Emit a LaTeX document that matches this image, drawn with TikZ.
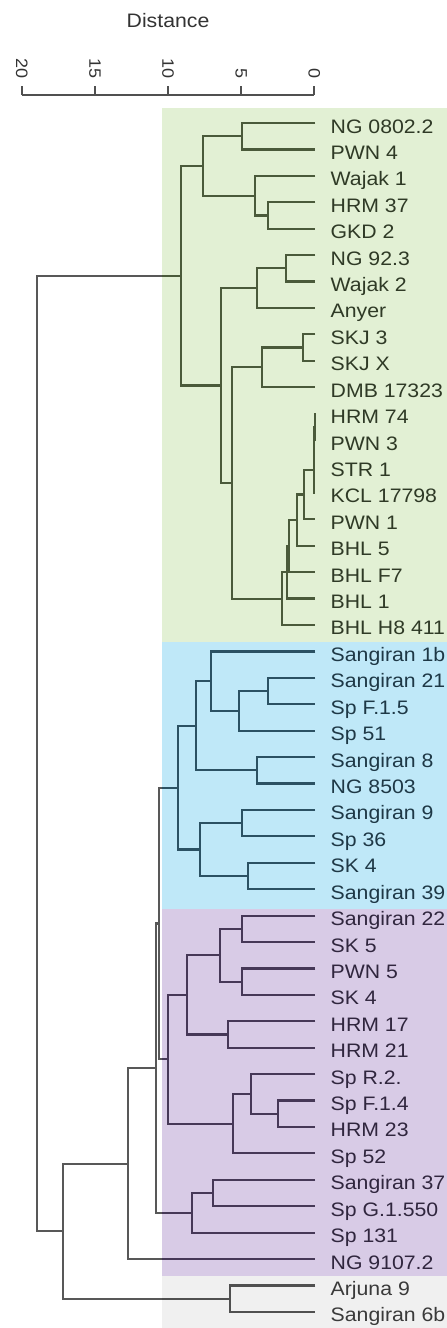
\documentclass[tikz,border=0pt]{standalone}
\usepackage{fontspec}
\setmainfont{Liberation Sans}[FakeStretch=1.09]
\usetikzlibrary{calc}

\definecolor{bgGreen}{HTML}{E2F0D4}
\definecolor{bgBlue}{HTML}{BFE8F8}
\definecolor{bgPurple}{HTML}{D8CBE6}
\definecolor{bgGray}{HTML}{F0F0F0}
\definecolor{lnWhite}{HTML}{585858}
\definecolor{lnGreen}{HTML}{4A5A3A}
\definecolor{lnBlue}{HTML}{2B5163}
\definecolor{lnPurple}{HTML}{463857}
\definecolor{lnGray}{HTML}{505050}
\definecolor{txGreen}{HTML}{2F3A26}
\definecolor{txBlue}{HTML}{1E3846}
\definecolor{txPurple}{HTML}{30263E}
\definecolor{txGray}{HTML}{3A3A3A}
\definecolor{txAxis}{HTML}{333333}

% internal node: name, x, child1, child2
\newcommand\jn[4]{\path let \p1=($(#3)!0.5!(#4)$) in coordinate (#1) at (#2pt,\y1);}
% bracket connector: parent, child1, child2
\newcommand\br[3]{\draw[tl] (#2) -| (#1) |- (#3);}

\newcommand\treelines{%
  \br{a1}{l0}{l1}\br{a2b}{l3}{l4}\br{a2}{l2}{a2b}\br{ga}{a1}{a2}%
  \br{b1a}{l5}{l6}\br{b1}{b1a}{l7}\br{b2aa}{l8}{l9}\br{b2a}{b2aa}{l10}%
  \br{h1}{l11}{l12}\br{h2}{h1}{l13}\br{h3}{h2}{l14}\br{h4}{h3}{l15}%
  \br{h5}{h4}{l16}\br{h6}{h5}{l17}\br{h7}{h6}{l18}\br{h8}{h7}{l19}%
  \br{b2}{b2a}{h8}\br{gb}{b1}{b2}\br{green}{ga}{gb}%
  \br{u1a}{l21}{l22}\br{u1b}{u1a}{l23}\br{u1}{l20}{u1b}\br{u2}{l24}{l25}%
  \br{ua}{u1}{u2}\br{u3}{l26}{l27}\br{u4}{l28}{l29}\br{ub}{u3}{u4}\br{blue}{ua}{ub}%
  \br{p1}{l30}{l31}\br{p2}{l32}{l33}\br{p12}{p1}{p2}\br{p3}{l34}{l35}\br{pa}{p12}{p3}%
  \br{p4}{l37}{l38}\br{p5}{l36}{p4}\br{pb}{p5}{l39}\br{pab}{pa}{pb}%
  \br{r3}{blue}{pab}\br{p6}{l40}{l41}\br{p7}{p6}{l42}\br{r2}{r3}{p7}%
  \br{r1}{r2}{l43}\br{gr}{l44}{l45}\br{rest}{r1}{gr}\br{root}{green}{rest}%
}

\begin{document}
\begin{tikzpicture}[x=1pt,y=-1pt,
  tl/.style={draw=lnWhite,line width=2.2pt},
  lab/.style={anchor=base west,inner sep=0pt,font=\fontsize{19.5}{21}\selectfont},
  ticklab/.style={anchor=east,inner sep=0pt,rotate=-90,text=txAxis,font=\fontsize{16.5}{18}\selectfont},
  axisline/.style={draw=lnGray,line width=2.2pt}]

\fill[white] (0,0) rectangle (447,1328);
\useasboundingbox (0,0) rectangle (447,1328);

% cluster bands
\fill[bgGreen]  (162,108)  rectangle (447,642);
\fill[bgBlue]   (162,642)  rectangle (447,909);
\fill[bgPurple] (162,909)  rectangle (447,1276);
\fill[bgGray]   (162,1276) rectangle (447,1328);

% leaves and labels
\foreach \i/\t in {0/NG 0802.2,1/PWN 4,2/Wajak 1,3/HRM 37,4/GKD 2,5/NG 92.3,6/Wajak 2,7/Anyer,8/SKJ 3,9/SKJ X,10/DMB 17323,11/HRM 74,12/PWN 3,13/STR 1,14/KCL 17798,15/PWN 1,16/BHL 5,17/BHL F7,18/BHL 1,19/BHL H8 411}{
  \coordinate (l\i) at (315,{123+26.42*\i});
  \node[lab,text=txGreen] (t\i) at (330.5,{133+26.42*\i}) {\t};
}
\foreach \i/\t in {20/Sangiran 1b,21/Sangiran 21,22/Sp F.1.5,23/Sp 51,24/Sangiran 8,25/NG 8503,26/Sangiran 9,27/Sp 36,28/SK 4,29/Sangiran 39}{
  \coordinate (l\i) at (315,{123+26.42*\i});
  \node[lab,text=txBlue] (t\i) at (330.5,{133+26.42*\i}) {\t};
}
\foreach \i/\t in {30/Sangiran 22,31/SK 5,32/PWN 5,33/SK 4,34/HRM 17,35/HRM 21,36/Sp R.2.,37/Sp F.1.4,38/HRM 23,39/Sp 52,40/Sangiran 37,41/Sp G.1.550,42/Sp 131,43/NG 9107.2}{
  \coordinate (l\i) at (315,{123+26.42*\i});
  \node[lab,text=txPurple] (t\i) at (330.5,{133+26.42*\i}) {\t};
}
\foreach \i/\t in {44/Arjuna 9,45/Sangiran 6b}{
  \coordinate (l\i) at (315,{123+26.42*\i});
  \node[lab,text=txGray] (t\i) at (330.5,{133+26.42*\i}) {\t};
}

% internal nodes
\jn{a1}{241.7}{l0}{l1}
\jn{a2b}{268.3}{l3}{l4}
\jn{a2}{255}{l2}{a2b}
\jn{ga}{203.3}{a1}{a2}
\jn{b1a}{286}{l5}{l6}
\jn{b1}{256.7}{b1a}{l7}
\jn{b2aa}{302.7}{l8}{l9}
\jn{b2a}{261.7}{b2aa}{l10}
\jn{h1}{314.6}{l11}{l12}
\jn{h2}{314.2}{h1}{l13}
\jn{h3}{313.8}{h2}{l14}
\jn{h4}{304}{h3}{l15}
\jn{h5}{296.7}{h4}{l16}
\jn{h6}{289.3}{h5}{l17}
\jn{h7}{287.3}{h6}{l18}
\jn{h8}{281.7}{h7}{l19}
\jn{b2}{231.7}{b2a}{h8}
\jn{gb}{221}{b1}{b2}
\jn{green}{180.7}{ga}{gb}
\jn{u1a}{268.3}{l21}{l22}
\jn{u1b}{239}{u1a}{l23}
\jn{u1}{210.7}{l20}{u1b}
\jn{u2}{257.3}{l24}{l25}
\jn{ua}{195.7}{u1}{u2}
\jn{u3}{242.3}{l26}{l27}
\jn{u4}{248.3}{l28}{l29}
\jn{ub}{200}{u3}{u4}
\jn{blue}{178.3}{ua}{ub}
\jn{p1}{242.3}{l30}{l31}
\jn{p2}{242.3}{l32}{l33}
\jn{p12}{220}{p1}{p2}
\jn{p3}{228.3}{l34}{l35}
\jn{pa}{186.7}{p12}{p3}
\jn{p4}{278.3}{l37}{l38}
\jn{p5}{250.7}{l36}{p4}
\jn{pb}{232.7}{p5}{l39}
\jn{pab}{167.8}{pa}{pb}
\jn{r3}{159.3}{blue}{pab}
\jn{p6}{213.3}{l40}{l41}
\jn{p7}{191.7}{p6}{l42}
\jn{r2}{155.6}{r3}{p7}
\jn{r1}{128.3}{r2}{l43}
\jn{gr}{230}{l44}{l45}
\jn{rest}{62.7}{r1}{gr}
\jn{root}{37.3}{green}{rest}

% tree: white area, then tinted inside each band
\treelines
\begin{scope}
  \clip (162,108) rectangle (447,642);
  \tikzset{tl/.style={draw=lnGreen,line width=2.2pt}}
  \treelines
\end{scope}
\begin{scope}
  \clip (162,642) rectangle (447,909);
  \tikzset{tl/.style={draw=lnBlue,line width=2.2pt}}
  \treelines
\end{scope}
\begin{scope}
  \clip (162,909) rectangle (447,1276);
  \tikzset{tl/.style={draw=lnPurple,line width=2.2pt}}
  \treelines
\end{scope}
\begin{scope}
  \clip (162,1276) rectangle (447,1328);
  \tikzset{tl/.style={draw=lnGray,line width=2.2pt}}
  \treelines
\end{scope}

% distance axis
\node[text=txAxis,anchor=base,inner sep=0pt,font=\fontsize{19.5}{21}\selectfont] (title) at (168,27) {Distance};
\coordinate (a20) at (21.7,95);
\coordinate (a15) at (94.85,95);
\coordinate (a10) at (168,95);
\coordinate (a5) at (241.15,95);
\coordinate (a0) at (314.3,95);
\draw[axisline] (a20) -- (a0);
\foreach \c/\v in {a20/20,a15/15,a10/10,a5/5,a0/0}{
  \draw[axisline] (\c) -- ++(0,-9);
  \node[ticklab] (k\v) at ($(\c)+(0,-16.5)$) {\v};
}
\end{tikzpicture}
\end{document}
